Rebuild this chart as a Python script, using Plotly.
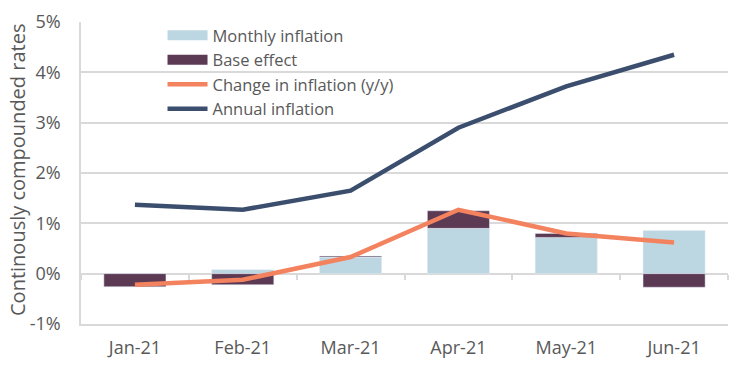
import plotly.graph_objects as go

months = ["Jan-21", "Feb-21", "Mar-21", "Apr-21", "May-21", "Jun-21"]
monthly_inflation = [0.0, 0.08, 0.33, 0.90, 0.72, 0.86]
base_effect = [-0.26, -0.22, 0.02, 0.35, 0.08, -0.27]
change_yy = [-0.22, -0.12, 0.33, 1.27, 0.80, 0.62]
annual_inflation = [1.37, 1.27, 1.65, 2.90, 3.72, 4.35]
y_ticks = [-1, 0, 1, 2, 3, 4, 5]
y_ticktext = ["-1%", "0%", "1%", "2%", "3%", "4%", "5%"]

C_LIGHT = "#bcd7e2"
C_BASE = "#5d3a54"
C_ORANGE = "#f3825f"
C_NAVY = "#3b4e6d"
C_GRID = "#d9d9d9"
C_TEXT = "#595959"
FONT = "Open Sans"

fig = go.Figure()
fig.add_trace(go.Bar(x=months, y=monthly_inflation, marker_color=C_LIGHT,
                     name="Monthly inflation", showlegend=False))
fig.add_trace(go.Bar(x=months, y=base_effect, marker_color=C_BASE,
                     name="Base effect", showlegend=False))
fig.add_trace(go.Scatter(x=months, y=change_yy, mode="lines",
                         line=dict(color=C_ORANGE, width=4.5),
                         name="Change in inflation (y/y)", showlegend=False))
fig.add_trace(go.Scatter(x=months, y=annual_inflation, mode="lines",
                         line=dict(color=C_NAVY, width=4.5),
                         name="Annual inflation", showlegend=False))

# legend entries
for nm, col, w in [("Monthly inflation", C_LIGHT, 12), ("Base effect", C_BASE, 12),
                   ("Change in inflation (y/y)", C_ORANGE, 4.5),
                   ("Annual inflation", C_NAVY, 4.5)]:
    fig.add_trace(go.Scatter(x=[None], y=[None], mode="lines",
                             line=dict(color=col, width=w), name=nm))

# invisible trace carrying the zero-line tick axis
fig.add_trace(go.Scatter(x=months, y=[None] * len(months), mode="markers",
                         xaxis="x2", showlegend=False, hoverinfo="skip",
                         marker=dict(opacity=0)))

fig.update_layout(
    width=750, height=365,
    margin=dict(l=81, r=22, t=22, b=41, autoexpand=False),
    paper_bgcolor="white", plot_bgcolor="white",
    barmode="relative", bargap=0.424,
    font=dict(family=FONT, color=C_TEXT, size=17),
    showlegend=True,
    legend=dict(x=0.126, y=1.013, xanchor="left", yanchor="top",
                bgcolor="rgba(0,0,0,0)", traceorder="normal",
                font=dict(size=16.5, color=C_TEXT), itemwidth=40,
                tracegroupgap=0),
    xaxis=dict(showline=True, linecolor=C_GRID, linewidth=1.5, ticks="",
               showgrid=False, automargin=False, ticklabelstandoff=7,
               tickfont=dict(size=18, color=C_TEXT)),
    xaxis2=dict(overlaying="x", anchor="free", position=1/6, side="bottom",
                matches="x", showline=False, showgrid=False, showticklabels=False,
                ticks="outside", ticklen=5, tickwidth=1.5, tickcolor=C_GRID,
                tickson="boundaries", automargin=False),
    yaxis=dict(range=[-1, 5], tickvals=y_ticks, ticktext=y_ticktext,
               showgrid=True, gridcolor=C_GRID, gridwidth=1.5,
               zeroline=True, zerolinecolor=C_GRID, zerolinewidth=2,
               showline=True, linecolor=C_GRID, linewidth=1.5,
               ticks="", ticklabelstandoff=15, automargin=False,
               tickfont=dict(size=18, color=C_TEXT)),
    annotations=[dict(text="Continously compounded rates", textangle=-90,
                      xref="paper", yref="paper", x=(18 - 81) / 647, y=0.51,
                      xanchor="center", yanchor="middle", showarrow=False,
                      font=dict(size=20, color=C_TEXT))],
)

fig.write_html("out.html", config={"displayModeBar": False},
               post_script="document.body.style.margin='0';document.body.style.overflow='hidden';")
